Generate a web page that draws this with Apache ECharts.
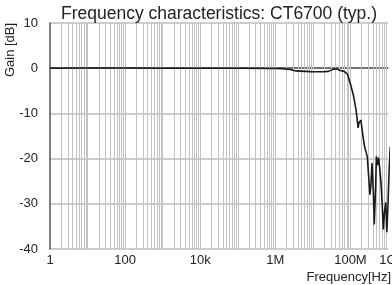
<!DOCTYPE html>
<html>
<head>
<meta charset="utf-8">
<script src="https://cdn.jsdelivr.net/npm/echarts@6/dist/echarts.min.js"></script>
<style>
  html, body { margin: 0; padding: 0; background: #fff; }
  #chart { width: 392px; height: 285px; }
</style>
</head>
<body>
<div id="chart"></div>
<script>
// frequency [Hz] and gain [dB]
var freq = [1, 10, 100, 1e3, 1e4, 1e5, 1e6, 1.5e6, 2.5e6, 3.5e6, 8.5e6, 19e6, 26e6, 35e6, 42e6, 54e6, 68e6, 83e6,
  100e6, 120e6, 141e6, 160e6, 170e6, 190e6, 215e6, 240e6, 280e6, 300e6, 330e6, 350e6, 375e6, 410e6, 430e6,
  470e6, 490e6, 520e6, 560e6, 600e6, 650e6, 700e6, 750e6, 800e6, 870e6, 930e6, 1.0e9, 1.08e9, 1.15e9];
var gain = [0.0, 0.05, 0.05, 0.0, 0.0, 0.0, -0.05, -0.1, -0.3, -0.6, -0.75, -0.8, -0.7, -0.2, -0.15, -0.5, -0.7, -1.3,
  -3.5, -6, -9.2, -13.2, -12, -11.5, -15, -17.5, -19.5, -23, -28, -26, -21, -28, -34.6,
  -26, -19.5, -21.5, -19.8, -22, -25.3, -30, -35.7, -32, -29.7, -36.3, -30, -21.8, -17.4];

// x tick labels by decade exponent (0..9)
var xTickLabels = ['1', '', '100', '', '10k', '', '1M', '', '100M', '1G'];
var yTicks = [-40, -30, -20, -10, 0, 10];

// vertical grid lines: every 1..9 x 10^k
var vLines = [];
for (var k = 0; k < 9; k++) {
  for (var m = 1; m <= 9; m++) {
    if (k === 0 && m === 1) continue;
    vLines.push(m * Math.pow(10, k));
  }
}

var chart = echarts.init(document.getElementById('chart'));
var data = freq.map(function (f, i) { return [f, gain[i]]; });

var options = {
  animation: false,
  backgroundColor: '#fff',
  title: {
    text: 'Frequency characteristics: CT6700 (typ.)',
    left: 214,
    textAlign: 'center',
    top: 0,
    textStyle: { color: '#222', fontSize: 17.5, fontWeight: 'normal', fontFamily: 'Liberation Sans' }
  },
  graphic: [
    {
      type: 'text', x: 10, y: 50, rotation: Math.PI / 2,
      style: { text: 'Gain [dB]', fill: '#222', fontSize: 13, fontFamily: 'Liberation Sans', align: 'center', verticalAlign: 'middle' }
    },
    {
      type: 'text', x: 391, y: 277,
      style: { text: 'Frequency[Hz]', fill: '#222', fontSize: 13, fontFamily: 'Liberation Sans', align: 'right', verticalAlign: 'middle' }
    }
  ],
  grid: { left: 50, right: 4, top: 23, bottom: 36, outerBoundsMode: 'none', containLabel: false },
  xAxis: {
    type: 'log',
    logBase: 10,
    min: 1,
    max: 1e9,
    axisLine: { show: true, lineStyle: { color: '#555', width: 1.5 } },
    axisTick: { show: false },
    splitLine: { show: false },
    axisLabel: {
      color: '#222', fontSize: 13, fontFamily: 'Liberation Sans', margin: 5,
      showMinLabel: true, showMaxLabel: true, hideOverlap: false,
      formatter: function (v) {
        var e = Math.round(Math.log10(v));
        return xTickLabels[e] || '';
      }
    }
  },
  yAxis: {
    type: 'value',
    min: yTicks[0],
    max: yTicks[yTicks.length - 1],
    interval: 10,
    axisLine: { show: true, lineStyle: { color: '#555', width: 1.5 } },
    axisTick: { show: false },
    splitLine: { lineStyle: { color: '#bdbdbd', width: 1.5 } },
    axisLabel: { color: '#222', fontSize: 13, fontFamily: 'Liberation Sans', margin: 12 }
  },
  series: [{
    type: 'line',
    data: data,
    symbol: 'none',
    clip: false,
    lineStyle: { color: '#1a1a1a', width: 1.6 },
    z: 5,
    markLine: {
      silent: true,
      symbol: 'none',
      label: { show: false },
      lineStyle: { type: 'solid', color: '#c2c2c2', width: 1 },
      data: vLines.map(function (v) { return { xAxis: v }; }),
      z: 1
    }
  }]
};

chart.setOption(options);
</script>
</body>
</html>
